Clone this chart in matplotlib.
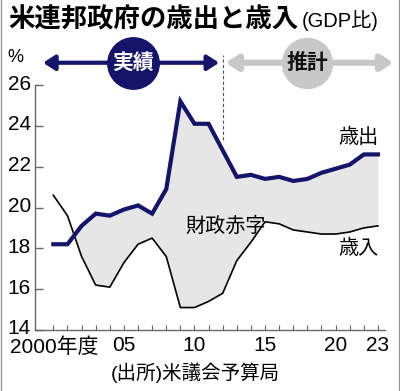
import numpy as np
import matplotlib
matplotlib.use('Agg')
import matplotlib.pyplot as plt
import matplotlib.transforms as mtransforms
from matplotlib.lines import Line2D

plt.rcParams['font.family'] = ['Liberation Sans', 'Noto Sans CJK JP', 'DejaVu Sans']

# data (% of GDP)
years = np.arange(2000, 2024)
outlays = [18.2, 18.2, 19.1, 19.7, 19.6, 19.9, 20.1, 19.7, 20.9, 25.2, 24.1, 24.1,
           22.8, 21.5, 21.6, 21.4, 21.5, 21.3, 21.4, 21.7, 21.9, 22.1, 22.6, 22.6]
revenues = [20.6, 19.6, 17.6, 16.2, 16.1, 17.3, 18.2, 18.5, 17.6, 15.1, 15.1, 15.4,
            15.8, 17.4, 18.3, 19.3, 19.2, 18.9, 18.8, 18.7, 18.7, 18.8, 19.0, 19.1]
xtick_pos = [2005, 2010, 2015, 2020, 2023]
xtick_lab = ['05', '10', '15', '20', '23']
yticks = [14, 16, 18, 20, 22, 24, 26]

navy = '#14146a'
grey = '#c8c8c8'

fig = plt.figure(figsize=(4.0, 3.91), dpi=100)
ax = fig.add_axes([35 / 400, 61 / 391, 350 / 400, 245 / 391])

out = np.array(outlays)
rev = np.array(revenues)
ax.fill_between(years, rev, out, where=out >= rev, interpolate=True,
                color='#e6e6e6', lw=0, zorder=1)
ax.plot(years, rev, color='black', lw=1.2, zorder=2)
ax.plot(years, out, color=navy, lw=3.0, solid_joinstyle='miter', zorder=3)

ax.set_xlim(1998.7, 2023.5)
ax.set_ylim(14, 26)
for s in ['top', 'right']:
    ax.spines[s].set_visible(False)
for s in ['left', 'bottom']:
    ax.spines[s].set_color('#666666')
    ax.spines[s].set_linewidth(1.0)

ax.set_yticks(yticks)
ax.tick_params(axis='y', direction='in', length=6, width=1, color='#666666',
               labelsize=15, pad=3)
# y labels sit a little above their ticks in the original
up = mtransforms.ScaledTranslation(0, 3 / 100, fig.dpi_scale_trans)
for lab in ax.get_yticklabels():
    lab.set_transform(lab.get_transform() + up)
ax.set_xticks(years, minor=True)
ax.set_xticks(xtick_pos)
ax.set_xticklabels(xtick_lab)
ax.tick_params(axis='x', which='both', direction='in', length=3.5, width=0.8,
               color='#666666', labelsize=15, pad=4)
fig.text(10 / 400, 1 - 347 / 391, '2000年度', ha='left', va='center', fontsize=15)

# labels inside the chart
ax.text(2021.6, 23.45, '歳出', ha='center', va='center', fontsize=14.5)
ax.text(2021.6, 18.0, '歳入', ha='center', va='center', fontsize=14.5)
ax.text(2012.2, 19.1, '財政赤字', ha='center', va='center', fontsize=14.5)

# header: actual / projection arrows
ax.plot([2012, 2012], [23.3, 27.45], color='#555555', lw=0.8,
        ls=(0, (3, 2)), clip_on=False, zorder=4)
ax.annotate('', xy=(1999.27, 27.09), xytext=(2011.75, 27.09),
            xycoords='data', annotation_clip=False,
            arrowprops=dict(arrowstyle='<|-|>,head_length=0.7,head_width=0.45',
                            color=navy, lw=3, mutation_scale=10,
                            shrinkA=0, shrinkB=0))
ax.annotate('', xy=(2024.1, 27.09), xytext=(2012.2, 27.09),
            xycoords='data', annotation_clip=False,
            arrowprops=dict(arrowstyle='<|-|>,head_length=0.7,head_width=0.45',
                            color=grey, lw=4.5, mutation_scale=10,
                            shrinkA=0, shrinkB=0))
ax.plot([2005.65], [27.09], 'o', ms=37, color=navy, clip_on=False, zorder=5)
ax.text(2005.65, 27.09, '実績', ha='center', va='center', fontsize=15,
        fontweight='bold', color='white', zorder=6, clip_on=False)
ax.plot([2018.0], [27.09], 'o', ms=36, color=grey, clip_on=False, zorder=5)
ax.text(2018.0, 27.09, '推計', ha='center', va='center', fontsize=15,
        fontweight='bold', color='#111111', zorder=6, clip_on=False)

# titles and source
fig.text(8 / 400, 1 - 20 / 391, '米連邦政府の歳出と歳入', ha='left', va='center',
         fontsize=19, fontweight='bold')
fig.text(302 / 400, 1 - 21 / 391, '(GDP比)', ha='left', va='center', fontsize=14.5)
fig.text(15 / 400, 1 - 57 / 391, '%', ha='center', va='center', fontsize=13)
fig.text(195 / 400, 1 - 373 / 391, '(出所)米議会予算局', ha='center', va='center',
         fontsize=14)

# side borders
fig.add_artist(Line2D([0.002, 0.002], [0, 1], color='#999999', lw=1,
                      transform=fig.transFigure))
fig.add_artist(Line2D([0.998, 0.998], [0, 1], color='#999999', lw=1,
                      transform=fig.transFigure))

fig.savefig('out.png', dpi=100)
